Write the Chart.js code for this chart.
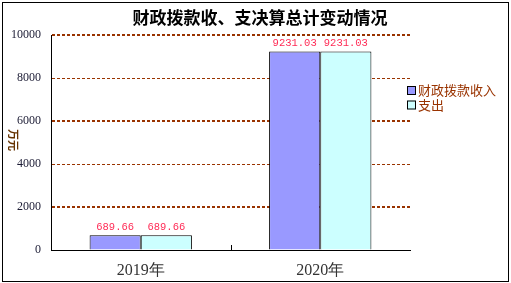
<!DOCTYPE html>
<html>
<head>
<meta charset="utf-8">
<script src="https://cdn.jsdelivr.net/npm/chart.js@4/dist/chart.umd.min.js"></script>
<style>
    html, body { margin: 0; padding: 0; background: #fff; }
    #box { width: 511px; height: 283px; }
</style>
</head>
<body>
<div id="box"><canvas id="chart"></canvas></div>
<script>
const chartTitle = '财政拨款收、支决算总计变动情况';
const unitLabel = '万元';
const years = ['2019年', '2020年'];
const incomeLabel = '财政拨款收入';
const incomeValues = [689.66, 9231.03];
const spendLabel = '支出';
const spendValues = [689.66, 9231.03];

const serif = '"Liberation Serif", "DejaVu Serif", serif';
const cjk = '"Noto Sans CJK SC", "Noto Sans", sans-serif';

// white page, outer frame, title and the unit on the left
const framePlugin = {
    id: 'frame',
    beforeDraw: function(chart) {
        const ctx = chart.ctx;
        ctx.save();
        ctx.fillStyle = '#fff';
        ctx.fillRect(0, 0, chart.width, chart.height);
        ctx.restore();
    },
    afterDraw: function(chart) {
        const ctx = chart.ctx;
        ctx.save();
        ctx.strokeStyle = '#000';
        ctx.lineWidth = 1;
        ctx.strokeRect(2.5, 2.5, chart.width - 5, chart.height - 4);

        ctx.fillStyle = '#000';
        ctx.font = 'bold 17px ' + cjk;
        ctx.textAlign = 'center';
        ctx.textBaseline = 'middle';
        ctx.fillText(chartTitle, 260, 18);

        ctx.translate(13, 140);
        ctx.rotate(Math.PI / 2);
        ctx.fillStyle = '#663300';
        ctx.font = 'bold 11px ' + cjk;
        ctx.fillText(unitLabel, 0, 0);
        ctx.restore();

        // small tick between the two categories
        const x = chart.scales.x;
        const mid = Math.round((x.getPixelForValue(0) + x.getPixelForValue(1)) / 2) + 0.5;
        ctx.save();
        ctx.strokeStyle = '#000';
        ctx.beginPath();
        ctx.moveTo(mid, chart.chartArea.bottom);
        ctx.lineTo(mid, chart.chartArea.bottom - 5);
        ctx.stroke();
        ctx.restore();
    }
};

// value labels above bars
const valuePlugin = {
    id: 'values',
    afterDatasetsDraw: function(chart) {
        const ctx = chart.ctx;
        ctx.save();
        ctx.fillStyle = '#ff2a55';
        ctx.font = '10.5px "Liberation Mono", "DejaVu Sans Mono", monospace';
        ctx.textAlign = 'center';
        ctx.textBaseline = 'middle';
        chart.data.datasets.forEach(function(ds, i) {
            chart.getDatasetMeta(i).data.forEach(function(bar, j) {
                ctx.fillText(ds.data[j].toFixed(2), bar.x, bar.y - 8);
            });
        });
        ctx.restore();
    }
};

// legend on the right
const legendPlugin = {
    id: 'sideLegend',
    afterDraw: function(chart) {
        const ctx = chart.ctx;
        ctx.save();
        ctx.font = '13px ' + cjk;
        ctx.textBaseline = 'middle';
        chart.data.datasets.forEach(function(ds, i) {
            const y = 86 + i * 14.5;
            ctx.fillStyle = ds.backgroundColor;
            ctx.fillRect(407, y, 9, 9);
            ctx.strokeStyle = '#000';
            ctx.strokeRect(407.5, y + 0.5, 8, 8);
            ctx.fillStyle = '#993300';
            ctx.fillText(ds.label, 418, y + 4.5);
        });
        ctx.restore();
    }
};

new Chart(document.getElementById('chart').getContext('2d'), {
    type: 'bar',
    data: {
        labels: years,
        datasets: [
            {
                label: incomeLabel,
                data: incomeValues,
                backgroundColor: '#9999ff',
                borderColor: '#000',
                borderWidth: 1,
            },
            {
                label: spendLabel,
                data: spendValues,
                backgroundColor: '#ccffff',
                borderColor: '#000',
                borderWidth: 1,
            },
        ],
    },
    options: {
        responsive: true,
        maintainAspectRatio: false,
        animation: false,
        categoryPercentage: 0.57,
        barPercentage: 1,
        layout: {
            padding: { left: 0, top: 35, right: 101, bottom: 0 },
        },
        plugins: {
            legend: { display: false },
            tooltip: { enabled: false },
        },
        scales: {
            y: {
                min: 0,
                max: 10000,
                afterFit: function(scale) { scale.width = 51; },
                ticks: {
                    stepSize: 2000,
                    padding: 10,
                    color: '#1a1a33',
                    font: { family: serif, size: 12 },
                    callback: function(value) { return String(value); },
                },
                grid: {
                    drawTicks: false,
                    color: function(ctx) {
                        return ctx.tick && ctx.tick.value === 0 ? 'rgba(0,0,0,0)' : '#993300';
                    },
                    lineWidth: function(ctx) {
                        return ctx.tick && ctx.tick.value % 4000 === 2000 ? 2 : 1;
                    },
                },
                border: { color: '#000', dash: [3, 2] },
            },
            x: {
                afterFit: function(scale) { scale.height = 33; },
                ticks: {
                    padding: 3,
                    color: '#333',
                    font: { family: serif, size: 16 },
                },
                grid: { display: false },
                border: { color: '#000' },
            }
        }
    },
    plugins: [framePlugin, valuePlugin, legendPlugin]
});
</script>
</body>
</html>
